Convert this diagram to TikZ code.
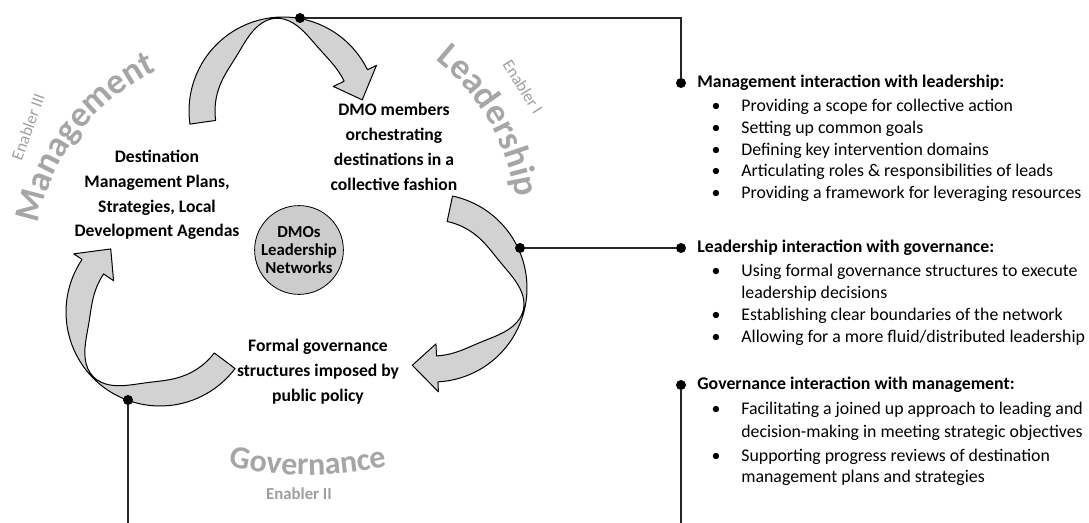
\documentclass[tikz,border=0pt]{standalone}
\usepackage{fontspec}
\setmainfont{Carlito}
\usetikzlibrary{decorations.text}

\newcommand{\bigtitle}{\fontsize{18}{18}\selectfont\bfseries}
\newcommand{\govtitle}{\fontsize{16}{16}\selectfont\bfseries}

\tikzset{
  dot/.style={circle, fill=black, inner sep=0pt, minimum size=5pt},
  band/.style={draw=black, fill=gray!35, line width=0.5pt, line join=round},
  cyctxt/.style={font=\fontsize{8.8}{12.4}\selectfont\bfseries, align=center},
  hubtxt/.style={circle, draw, fill=gray!40, minimum size=41pt, inner sep=0pt,
    align=center, font=\fontsize{8.4}{8.8}\selectfont\bfseries},
  headtxt/.style={anchor=base west, inner sep=0pt, font=\fontsize{8.9}{10}\selectfont\bfseries},
  itemtxt/.style={anchor=base west, inner sep=0pt, font=\fontsize{8.9}{10}\selectfont},
  bul/.style={anchor=base, inner sep=0pt, font=\fontsize{8.9}{10}\selectfont},
  enabler/.style={text=gray!75, font=\fontsize{8.4}{10}\selectfont},
  link/.style={line width=0.6pt, black!85},
  title arc/.style={decorate, decoration={text along path, text align=center,
    text color=gray!70, text={|\bigtitle|#1}}},
  gov arc/.style={decorate, decoration={text along path, text align=center,
    text color=gray!70, text={|\govtitle|#1}}}
}

% curved arrow: centre x, centre y, start angle, end angle, twist angle
\newcommand{\cyclearrow}[5]{%
  \draw[band] plot[domain=#3:#4, samples=60] ({#1+94*cos(\x)},{#2-94*sin(\x)})
    -- ({#1+104*cos(#4)},{#2-104*sin(#4)})
    -- ({#1+80*cos(#4-18)},{#2-80*sin(#4-18)})
    -- ({#1+56*cos(#4)},{#2-56*sin(#4)})
    -- plot[domain=#4:#3, samples=60]
      ({#1+(68+25*exp(-((\x-(#5))/26)*((\x-(#5))/26)))*cos(\x)},
       {#2-(68+25*exp(-((\x-(#5))/26)*((\x-(#5))/26)))*sin(\x)})
    -- cycle;}

\begin{document}
\begin{tikzpicture}[x=0.5pt, y=-0.5pt]
\useasboundingbox (0,0) rectangle (1089,523);

% the cycle
\cyclearrow{283}{111}{188}{26}{95}
\cyclearrow{433}{288}{78}{-87}{-14}
\cyclearrow{160}{312}{-37}{-214}{-136}

\node[hubtxt] (hub) at (299,250) {DMOs\\Leadership\\Networks};

\node[cyctxt] (mgmt) at (157,195) {Destination\\Management Plans,\\Strategies, Local\\Development Agendas};
\node[cyctxt] (lead) at (394,147) {DMO members\\orchestrating\\destinations in a\\collective fashion};
\node[cyctxt] (gov) at (318,372) {Formal governance\\structures imposed by\\public policy};

% enabler titles
\path[title arc=Leadership] plot[domain=60:0, samples=80] ({300+218*cos(\x)},{230-218*sin(\x)});
\path[title arc=Management] plot[domain=190:94, samples=80] ({248+214*cos(\x)},{265-214*sin(\x)});
\path[gov arc=Governance] plot[domain=250:290, samples=80] ({308+370*cos(\x)},{105-370*sin(\x)});

\node[enabler, rotate=-58] (en1) at (523,87) {Enabler I};
\node[enabler, rotate=70] (en3) at (28,127) {Enabler III};
\node[enabler, font=\fontsize{8.4}{10}\selectfont\bfseries] (en2) at (299,494) {Enabler II};

% links to the interaction lists
\node[dot] (d1) at (300,18) {};
\node[dot] (d2) at (520,248) {};
\node[dot] (d3) at (128,400) {};
\node[dot] (h1) at (681,83) {};
\node[dot] (h2) at (681,248) {};
\node[dot] (h3) at (681,385) {};
\coordinate (e3) at (128,523);
\coordinate (e4) at (681,523);
\draw[link] (d1) -| (h1);
\draw[link] (d2) -- (h2);
\draw[link] (d3) -- (e3);
\draw[link] (h3) -- (e4);

% interaction lists
\node[headtxt] (t1) at (697,88) {Management interaction with leadership:};
\node[headtxt] (t2) at (697,253) {Leadership interaction with governance:};
\node[headtxt] (t3) at (697,390) {Governance interaction with management:};
\foreach \yy in {112,134,156,177,199,277,321,343,415,462}
  \node[bul] at (716,\yy) {\textbullet};
\foreach \yy/\itm in {112/{Providing a scope for collective action},
    134/{Setting up common goals},
    156/{Defining key intervention domains},
    177/{Articulating roles \& responsibilities of leads},
    199/{Providing a framework for leveraging resources},
    277/{Using formal governance structures to execute},
    299/{leadership decisions},
    321/{Establishing clear boundaries of the network},
    343/{Allowing for a more fluid/distributed leadership},
    415/{Facilitating a joined up approach to leading and},
    438/{decision-making in meeting strategic objectives},
    462/{Supporting progress reviews of destination},
    483/{management plans and strategies}}
  \node[itemtxt] at (741,\yy) {\itm};
\end{tikzpicture}
\end{document}
